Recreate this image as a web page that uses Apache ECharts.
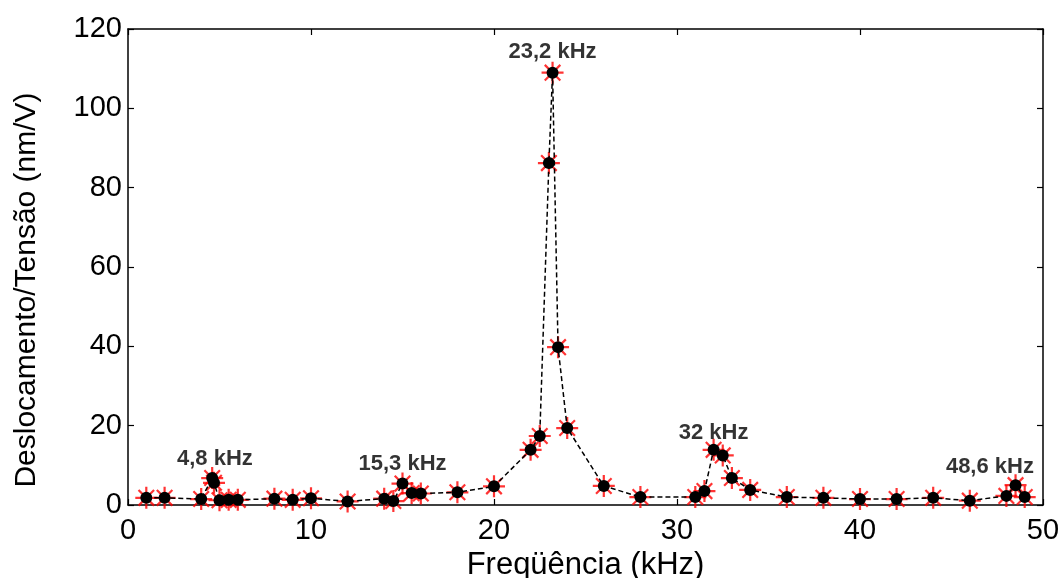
<!DOCTYPE html>
<html><head><meta charset="utf-8">
<script src="https://cdn.jsdelivr.net/npm/echarts@6/dist/echarts.min.js"></script>
<style>html,body{margin:0;padding:0;background:#fff}#c{width:1061px;height:578px}</style>
</head><body><div id="c"></div>
<script>
var freq = [1, 2, 4, 4.6, 4.7, 5, 5.5, 6, 8, 9, 10, 12, 14, 14.5, 15, 15.5, 16, 18, 20, 22, 22.5, 23, 23.2, 23.5, 24, 26, 28, 31, 31.5, 32, 32.5, 33, 34, 36, 38, 40, 42, 44, 46, 48, 48.5, 49];
var resp = [1.8, 1.8, 1.5, 6.8, 5.6, 1.2, 1.3, 1.3, 1.6, 1.3, 1.7, 0.9, 1.6, 1.0, 5.4, 3.0, 2.9, 3.2, 4.7, 13.9, 17.4, 86.2, 109, 39.8, 19.4, 4.8, 2.0, 2.0, 3.5, 13.9, 12.5, 6.8, 3.8, 2.0, 1.8, 1.5, 1.5, 1.8, 1.1, 2.3, 5.0, 2.0];
var annX = [4.75, 15.0, 23.2, 32.0, 47.1];
var annY = [11.6, 10.3, 114.2, 18.1, 9.6];
var annText = ['4,8 kHz', '15,3 kHz', '23,2 kHz', '32 kHz', '48,6 kHz'];
var xTitle = 'Freqüência (kHz)';
var yTitle = 'Deslocamento/Tensão (nm/V)';

var pts = freq.map(function (f, i) { return [f, resp[i]]; });
var ann = annX.map(function (x, i) { return { value: [x, annY[i]], label: { formatter: annText[i] } }; });
var star = 'path://M0,-10L0,10M-10,0L10,0M-7.07,-7.07L7.07,7.07M-7.07,7.07L7.07,-7.07';
var F = 'Liberation Sans, Arial, sans-serif';
var axLine = { onZero: false, lineStyle: { color: '#000', width: 1.5 } };
var tick = { inside: true, length: 6, lineStyle: { color: '#000', width: 1.2 } };

var chart = echarts.init(document.getElementById('c'));
chart.setOption({
  animation: false,
  backgroundColor: '#fff',
  grid: { left: 128, right: 18, top: 29, bottom: 73, containLabel: false, outerBoundsMode: 'none' },
  xAxis: [{
    type: 'value', min: 0, max: 50, interval: 10,
    name: xTitle, nameLocation: 'middle', nameGap: 44,
    nameTextStyle: { fontFamily: F, fontSize: 31, color: '#000' },
    axisLine: axLine, axisTick: tick, splitLine: { show: false },
    axisLabel: { fontFamily: F, fontSize: 29, color: '#000', margin: 11 }
  }, {
    type: 'value', min: 0, max: 50, interval: 10, position: 'top',
    axisLine: axLine, axisTick: tick, splitLine: { show: false }, axisLabel: { show: false }
  }],
  yAxis: [{
    type: 'value', min: 0, max: 120, interval: 20,
    name: yTitle, nameLocation: 'middle', nameGap: 86,
    nameTextStyle: { fontFamily: F, fontSize: 30, color: '#000', padding: [0, 46, 0, 0] },
    axisLine: axLine, axisTick: tick, splitLine: { show: false },
    axisLabel: { fontFamily: F, fontSize: 29, color: '#000', margin: 6 }
  }, {
    type: 'value', min: 0, max: 120, interval: 20, position: 'right',
    axisLine: axLine, axisTick: tick, splitLine: { show: false }, axisLabel: { show: false }
  }],
  series: [{
    type: 'scatter', data: pts, symbol: star, symbolSize: 22, z: 2,
    itemStyle: { color: 'rgba(0,0,0,0)', borderColor: '#ff0000', borderWidth: 2.2 },
    silent: true
  }, {
    type: 'line', data: pts, symbol: 'circle', symbolSize: 12, showSymbol: true, z: 3,
    lineStyle: { color: '#000', width: 1.5, type: [5, 3] },
    itemStyle: { color: '#000', borderWidth: 0 },
    silent: true
  }, {
    type: 'scatter', data: ann, symbolSize: 1, z: 4,
    itemStyle: { color: 'rgba(0,0,0,0)' },
    label: { show: true, position: 'inside', fontFamily: F, fontSize: 22, fontWeight: 'bold', color: '#000' },
    silent: true
  }]
});
</script></body></html>
